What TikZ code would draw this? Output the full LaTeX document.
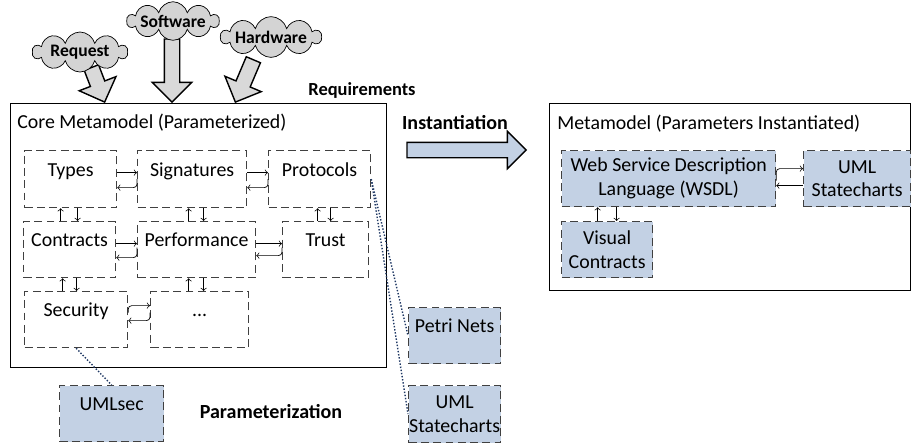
\documentclass[tikz,border=0pt]{standalone}
\usepackage{fontspec}
\setmainfont{Carlito}
\usetikzlibrary{shapes.symbols,shapes.arrows}
\definecolor{paramblue}{RGB}{195,209,228}
\definecolor{cloudgray}{RGB}{212,212,212}
\definecolor{dotnavy}{RGB}{31,56,100}

\begin{document}
\begin{tikzpicture}[x=0.02cm,y=-0.02cm,font=\fontsize{11.3}{13.5}\selectfont,>=to]
	\tikzstyle{frame}=[draw,thick,anchor=north west,inner sep=0pt]
	\tikzstyle{box}=[draw=black!75,line width=0.7pt,dash pattern=on 4.5pt off 2.5pt,anchor=north west,inner sep=0pt]
	\tikzstyle{part}=[box,text height=14pt,text depth=17pt]
	\tikzstyle{param}=[part,fill=paramblue]
	\tikzstyle{inst}=[box,fill=paramblue,align=center]
	\tikzstyle{idea}=[cloud,draw,fill=cloudgray,cloud puffs=10,cloud ignores aspect,inner sep=0pt,font=\fontsize{10}{12}\selectfont\bfseries]
	\tikzstyle{fat}=[single arrow,draw,thick,inner xsep=0pt,inner ysep=0.14cm,single arrow head extend=0.24cm,anchor=tip]
	\tikzstyle{heading}=[font=\fontsize{11.4}{13}\selectfont\bfseries]
	\tikzstyle{link}=[dotnavy,densely dotted,line width=0.8pt]
	\tikzstyle{pair}=[->,rounded corners=2pt]
	
	\useasboundingbox (0,0) rectangle (911,444);
	
	% requirements
	\node[fat,fill=gray!30,minimum height=0.74cm,rotate=-69](reqarrow) at (105,103){};
	\node[fat,fill=gray!30,minimum height=1.26cm,rotate=-90](swarrow) at (172,103){};
	\node[fat,fill=gray!30,minimum height=0.92cm,rotate=-113](hwarrow) at (235,103){};
	
	\node[idea,minimum width=1.9cm,minimum height=0.8cm](request) at (80,52){Request};
	\node[idea,minimum width=1.8cm,minimum height=0.74cm](software) at (173,21){Software};
	\node[idea,minimum width=1.96cm,minimum height=0.78cm](hardware) at (271,37){Hardware};
	
	\node[heading,font=\fontsize{10.5}{12}\selectfont\bfseries](requirements) at (362,90){Requirements};
	
	% core metamodel
	\node[frame,minimum width=7.52cm,minimum height=5.28cm](core) at (10,103){};
	\node[anchor=base west,inner sep=0pt](coretitle) at (17,128){Core Metamodel (Parameterized)};
	
	\node[part,minimum width=1.84cm,minimum height=1.14cm](types) at (24,150){Types};
	\node[part,minimum width=2.18cm,minimum height=1.14cm](sig) at (137,150){Signatures};
	\node[part,minimum width=2.04cm,minimum height=1.14cm](prot) at (268,150){Protocols};
	\node[part,minimum width=1.84cm,minimum height=1.12cm](contr) at (23,221){Contracts};
	\node[part,minimum width=2.36cm,minimum height=1.12cm](perf) at (137,221){Performance};
	\node[part,minimum width=1.72cm,minimum height=1.12cm](trust) at (282,221){Trust};
	\node[part,minimum width=2.06cm,minimum height=1.12cm](sec) at (24,291){Security};
	\node[part,minimum width=1.96cm,minimum height=1.12cm](more) at (150,291){...};
	
	\draw[pair] ([yshift=1.3mm]types.east) -- ([yshift=1.3mm]sig.west);
	\draw[pair] (sig.west) |- ([yshift=-1.7mm]types.east);
	\draw[pair] ([yshift=1.3mm]sig.east) -- ([yshift=1.3mm]prot.west);
	\draw[pair] (prot.west) |- ([yshift=-1.7mm]sig.east);
	\draw[pair] ([yshift=1.2mm]contr.east) -- ([yshift=1.2mm]perf.west);
	\draw[pair] ([yshift=0.4mm]perf.west) |- ([yshift=-1.6mm]contr.east);
	\draw[pair] ([yshift=1.2mm]perf.east) -- ([yshift=1.2mm]trust.west);
	\draw[pair] ([yshift=0.4mm]trust.west) |- ([yshift=-1.2mm]perf.east);
	\draw[pair] ([yshift=1.4mm]sec.east) |- ([yshift=2.8mm]more.west);
	\draw[pair] ([yshift=1.4mm]more.west) |- ([yshift=-0.2mm]sec.east);
	
	\draw[->] ([xshift=-2mm]types.south |- contr.north) -- ([xshift=-2mm]types.south);
	\draw[->] ([xshift=1.4mm]types.south) -- ([xshift=1.4mm]types.south |- contr.north);
	\draw[->] ([xshift=-1.6mm]perf.north) -- ([xshift=-1.6mm]perf.north |- sig.south);
	\draw[->] ([xshift=1.4mm]perf.north |- sig.south) -- ([xshift=1.4mm]perf.north);
	\draw[->] ([xshift=-1.6mm]trust.north) -- ([xshift=-1.6mm]trust.north |- prot.south);
	\draw[->] ([xshift=1mm]trust.north |- prot.south) -- ([xshift=1mm]trust.north);
	\draw[->] ([xshift=-1.4mm]contr.south |- sec.north) -- ([xshift=-1.4mm]contr.south);
	\draw[->] ([xshift=1.4mm]contr.south) -- ([xshift=1.4mm]contr.south |- sec.north);
	\draw[->] ([xshift=-1.6mm]perf.south |- more.north) -- ([xshift=-1.6mm]perf.south);
	\draw[->] ([xshift=1.4mm]perf.south) -- ([xshift=1.4mm]perf.south |- more.north);
	
	% parameters
	\node[param,minimum width=2.08cm,minimum height=1.12cm](umlsec) at (59,385){UMLsec};
	\node[param,minimum width=1.84cm,minimum height=1.12cm](petri) at (408,307){Petri Nets};
	\node[inst,minimum width=1.84cm,minimum height=1.14cm](umls) at (408,385){UML\\Statecharts};
	\node[heading](parameterization) at (271,412){Parameterization};
	
	\draw[link] (sec.south) -- (umlsec.north);
	\draw[link] (prot.east) -- (petri.west);
	\draw[link] (prot.east) -- (umls.west);
	
	% instantiation
	\node[heading](instantiation) at (455,123){Instantiation};
	\node[fat,fill=paramblue,single arrow head extend=0.22cm,minimum height=2.38cm](instarrow) at (527,150){};
	
	\node[frame,minimum width=7.22cm,minimum height=3.74cm](meta) at (549,103){};
	\node[anchor=base west,inner sep=0pt](metatitle) at (557,129){Metamodel (Parameters Instantiated)};
	
	\node[inst,minimum width=4.28cm,minimum height=1.12cm](wsdl) at (561,150){Web Service Description\\Language (WSDL)};
	\node[inst,minimum width=2.14cm,minimum height=1.12cm](umlr) at (803,150){UML\\Statecharts};
	\node[inst,minimum width=1.82cm,minimum height=1.12cm](visual) at (561,221){Visual\\Contracts};
	
	\draw[pair] ([yshift=-0.4mm]wsdl.east) |- ([yshift=2mm]umlr.west);
	\draw[pair] ([yshift=-1.4mm]umlr.west) -- ([yshift=-1.4mm]wsdl.east);
	\draw[->] ([xshift=-1.9mm]visual.north) -- ([xshift=-1.9mm]visual.north |- wsdl.south);
	\draw[->] ([xshift=1.9mm]visual.north |- wsdl.south) -- ([xshift=1.9mm]visual.north);
	
\end{tikzpicture}
\end{document}
